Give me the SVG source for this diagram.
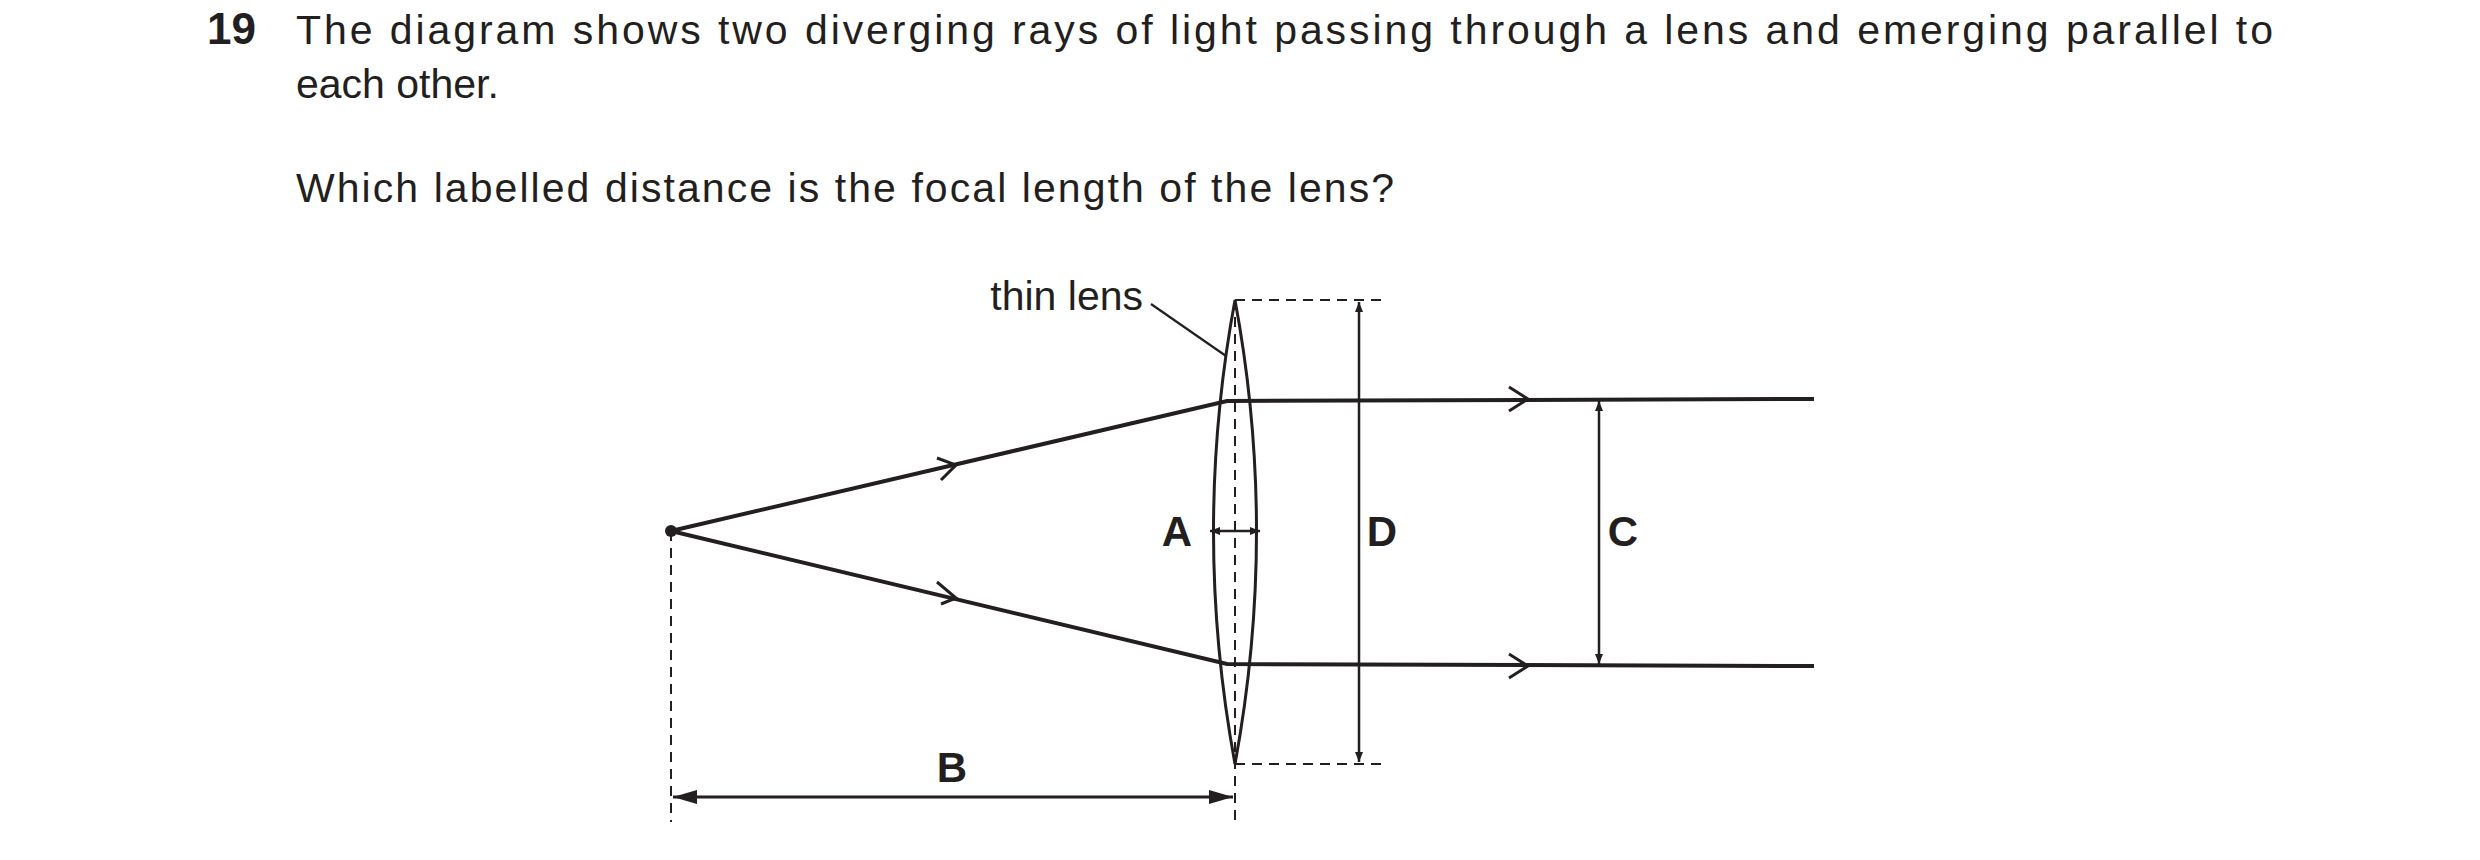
<svg xmlns="http://www.w3.org/2000/svg" width="2480" height="860" viewBox="0 0 2480 860">
<style>
text{font-family:"Liberation Sans",Arial,sans-serif;fill:#231f20}
.t{font-size:41px}
.b{font-size:42px;font-weight:bold}
.ray{stroke:#231f20;stroke-width:4;fill:none}
.thin{stroke:#231f20;stroke-width:2.2;fill:none}
.dash{stroke:#231f20;stroke-width:2;fill:none;stroke-dasharray:10,7}
</style>
<defs>
<marker id="ah" markerWidth="10" markerHeight="8" refX="10" refY="4" orient="auto-start-reverse" markerUnits="userSpaceOnUse" viewBox="0 0 10 8"><path d="M0,0 L10,4 L0,8 Z" fill="#231f20"/></marker>
<marker id="ahl" markerWidth="24" markerHeight="14" refX="24" refY="7" orient="auto-start-reverse" markerUnits="userSpaceOnUse" viewBox="0 0 24 14"><path d="M0,0 L24,7 L0,14 Z" fill="#231f20"/></marker>
</defs>
<g id="question">
<text class="b" x="207" y="44" style="font-size:44px">19</text>
<text class="t" x="296" y="44" textLength="1977" lengthAdjust="spacing">The diagram shows two diverging rays of light passing through a lens and emerging parallel to</text>
<text class="t" x="296" y="98">each other.</text>
<text class="t" x="296" y="202" textLength="1098">Which labelled distance is the focal length of the lens?</text>
</g>
<g id="lens">
<path class="thin" d="M1235,300 Q1278,531 1235,764 Q1192,531 1235,300 Z" style="stroke-width:3"/>
<text class="t" x="1143" y="310" text-anchor="end">thin lens</text>
</g>
<g id="source"><circle cx="671" cy="531" r="6" fill="#231f20"/></g>
<g id="labels">
<text class="b" x="1177" y="546" text-anchor="middle">A</text>
<text class="b" x="952" y="782" text-anchor="middle">B</text>
<text class="b" x="1623" y="546" text-anchor="middle">C</text>
<text class="b" x="1382" y="546" text-anchor="middle">D</text>
</g>
<g id="connectors">
<line class="thin" x1="1151" y1="304" x2="1226" y2="356"/>
<polyline class="ray" points="671,531 1227,401 1814,399"/>
<polyline class="ray" points="671,531 1227,664 1814,666"/>
<path class="ray" d="M937,458 L956,465 L941,480 M937,582 L956,598 L941,604" style="stroke-width:3"/>
<path class="ray" d="M1509,387 L1528,399 L1509,411 M1509,654 L1528,666 L1509,678" style="stroke-width:3"/>
<line class="dash" x1="671" y1="531" x2="671" y2="822"/>
<line class="dash" x1="1235" y1="300" x2="1235" y2="822"/>
<line class="dash" x1="1235" y1="300" x2="1386" y2="300"/>
<line class="dash" x1="1235" y1="764" x2="1386" y2="764"/>
<line class="thin" x1="1359" y1="302" x2="1359" y2="762" marker-start="url(#ah)" marker-end="url(#ah)" style="stroke-width:2.5"/>
<line class="thin" x1="1599" y1="401" x2="1599" y2="664" marker-start="url(#ah)" marker-end="url(#ah)" style="stroke-width:2.5"/>
<line class="thin" x1="1210" y1="531" x2="1260" y2="531" marker-start="url(#ah)" marker-end="url(#ah)" style="stroke-width:2.5"/>
<line class="thin" x1="673" y1="797" x2="1233" y2="797" marker-start="url(#ahl)" marker-end="url(#ahl)" style="stroke-width:3"/>
</g>
</svg>
